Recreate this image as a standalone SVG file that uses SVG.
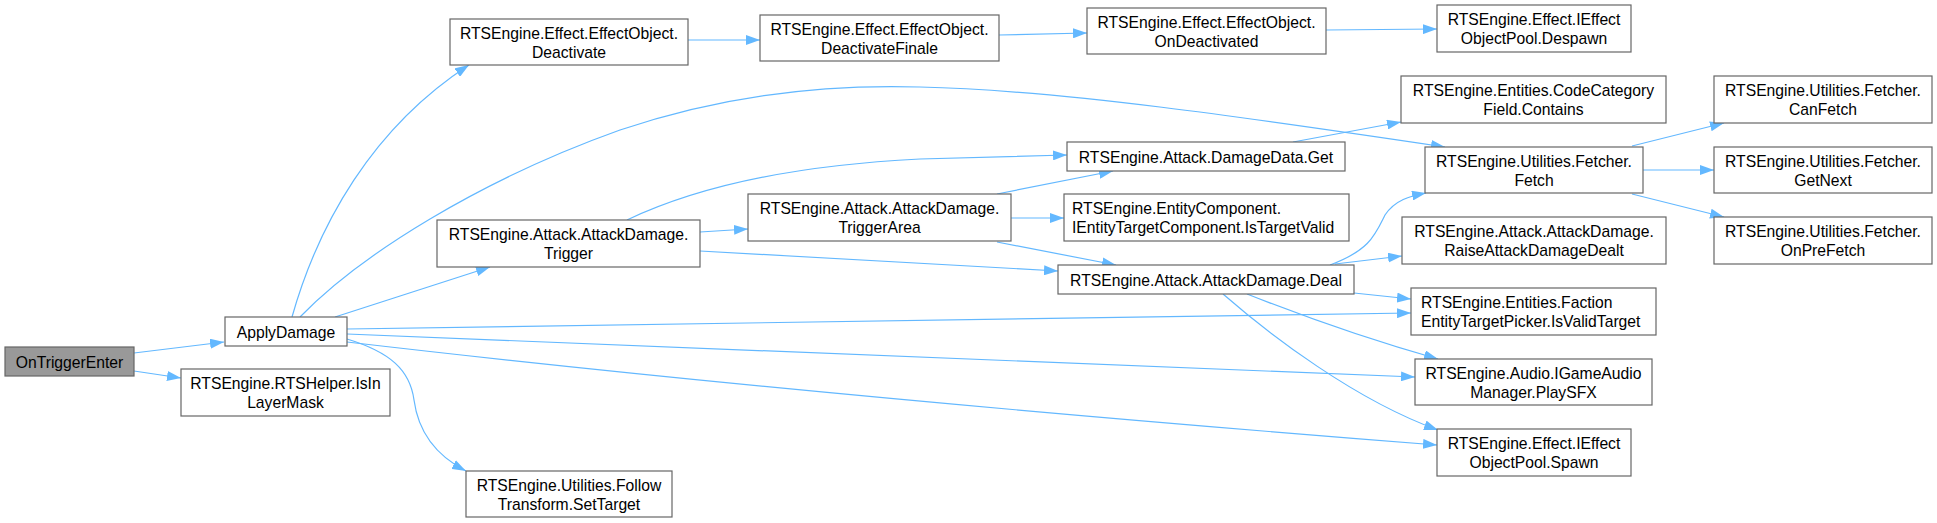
<svg xmlns="http://www.w3.org/2000/svg" width="1937" height="523" viewBox="0 0 1937 523">
<style>
.node rect{fill:#ffffff;stroke:#666666;stroke-width:1.2}
.root rect{fill:#999999}
text{font-family:"Liberation Sans",Arial,Helvetica,sans-serif;font-size:15.7px;fill:#000000}
.c{text-anchor:middle}
.l{text-anchor:start}
.edges path{fill:none;stroke:#63b8ff;stroke-width:1.2;marker-end:url(#ah)}
</style>
<defs>
<marker id="ah" markerWidth="14" markerHeight="10" refX="14" refY="5" orient="auto" markerUnits="userSpaceOnUse"><path d="M0,0L14,5L0,10z" fill="#63b8ff"/></marker>
</defs>
<rect x="0" y="0" width="1937" height="523" fill="#ffffff"/>
<g class="edges" id="edges">
<path d="M134,353 L224,342"/>
<path d="M134,371 L181,378"/>
<path d="M292,317 C318,225 372,128 469,65"/>
<path d="M300,317 C360,255 480,180 620,130 C720,96 820,84 920,87 C1060,90 1250,118 1445,147"/>
<path d="M335,317 L490,267"/>
<path d="M347,329 L1411,313"/>
<path d="M347,334 L1415,377"/>
<path d="M347,342 Q800,395 1437,445"/>
<path d="M347,339 C390,352 410,370 414,400 C418,430 435,455 466,471"/>
<path d="M688,40 L760,40"/>
<path d="M999,35 L1087,33"/>
<path d="M1326,30 L1437,29"/>
<path d="M627,220 C690,190 780,166 920,159 C980,157 1030,156 1067,155"/>
<path d="M700,232 L748,229"/>
<path d="M700,251 L1058,271"/>
<path d="M997,194 L1113,171"/>
<path d="M1011,218 L1064,218"/>
<path d="M997,242 L1116,265"/>
<path d="M1293,142 L1401,122"/>
<path d="M1330,265 C1370,250 1375,235 1385,215 C1395,200 1410,196 1426,193"/>
<path d="M1335,264 L1402,256"/>
<path d="M1354,293 L1411,299"/>
<path d="M1247,294 C1300,315 1370,340 1438,359"/>
<path d="M1223,294 C1270,335 1355,400 1438,430"/>
<path d="M1632,146 L1724,123"/>
<path d="M1643,170 L1714,170"/>
<path d="M1632,194 L1724,217"/>
</g>
<g class="node root" id="OnTriggerEnter"><rect x="5" y="347" width="129" height="29"/><text class="c" x="69.5" y="368">OnTriggerEnter</text></g>
<g class="node" id="ApplyDamage"><rect x="225" y="317" width="122" height="29"/><text class="c" x="286" y="338">ApplyDamage</text></g>
<g class="node" id="IsInLayerMask"><rect x="181" y="369" width="209" height="47"/><text class="c" x="285.5" y="389">RTSEngine.RTSHelper.IsIn</text><text class="c" x="285.5" y="407.5">LayerMask</text></g>
<g class="node" id="SetTarget"><rect x="466" y="471" width="206" height="46"/><text class="c" x="569" y="491">RTSEngine.Utilities.Follow</text><text class="c" x="569" y="509.5">Transform.SetTarget</text></g>
<g class="node" id="Deactivate"><rect x="450" y="19" width="238" height="46"/><text class="c" x="569" y="39">RTSEngine.Effect.EffectObject.</text><text class="c" x="569" y="57.5">Deactivate</text></g>
<g class="node" id="DeactivateFinale"><rect x="760" y="15" width="239" height="46"/><text class="c" x="879.5" y="35">RTSEngine.Effect.EffectObject.</text><text class="c" x="879.5" y="53.5">DeactivateFinale</text></g>
<g class="node" id="OnDeactivated"><rect x="1087" y="8" width="239" height="46"/><text class="c" x="1206.5" y="28">RTSEngine.Effect.EffectObject.</text><text class="c" x="1206.5" y="46.5">OnDeactivated</text></g>
<g class="node" id="Despawn"><rect x="1437" y="5" width="194" height="47"/><text class="c" x="1534" y="25">RTSEngine.Effect.IEffect</text><text class="c" x="1534" y="43.5">ObjectPool.Despawn</text></g>
<g class="node" id="Trigger"><rect x="437" y="220" width="263" height="47"/><text class="c" x="568.5" y="240">RTSEngine.Attack.AttackDamage.</text><text class="c" x="568.5" y="258.5">Trigger</text></g>
<g class="node" id="TriggerArea"><rect x="748" y="194" width="263" height="47"/><text class="c" x="879.5" y="214">RTSEngine.Attack.AttackDamage.</text><text class="c" x="879.5" y="232.5">TriggerArea</text></g>
<g class="node" id="DamageDataGet"><rect x="1067" y="142" width="278" height="29"/><text class="c" x="1206" y="162.8">RTSEngine.Attack.DamageData.Get</text></g>
<g class="node" id="IsTargetValid"><rect x="1064" y="194" width="285" height="47"/><text class="l" x="1072" y="214">RTSEngine.EntityComponent.</text><text class="l" x="1072" y="232.5">IEntityTargetComponent.IsTargetValid</text></g>
<g class="node" id="Deal"><rect x="1058" y="265" width="296" height="29"/><text class="c" x="1206" y="285.8">RTSEngine.Attack.AttackDamage.Deal</text></g>
<g class="node" id="Contains"><rect x="1401" y="76" width="265" height="47"/><text class="c" x="1533.5" y="96">RTSEngine.Entities.CodeCategory</text><text class="c" x="1533.5" y="114.5">Field.Contains</text></g>
<g class="node" id="Fetch"><rect x="1425" y="147" width="218" height="46"/><text class="c" x="1534" y="167">RTSEngine.Utilities.Fetcher.</text><text class="c" x="1534" y="185.5">Fetch</text></g>
<g class="node" id="RaiseAttackDamageDealt"><rect x="1402" y="217" width="264" height="47"/><text class="c" x="1534" y="237">RTSEngine.Attack.AttackDamage.</text><text class="c" x="1534" y="255.5">RaiseAttackDamageDealt</text></g>
<g class="node" id="IsValidTarget"><rect x="1411" y="288" width="245" height="47"/><text class="l" x="1421" y="308">RTSEngine.Entities.Faction</text><text class="l" x="1421" y="326.5">EntityTargetPicker.IsValidTarget</text></g>
<g class="node" id="PlaySFX"><rect x="1415" y="359" width="237" height="46"/><text class="c" x="1533.5" y="379">RTSEngine.Audio.IGameAudio</text><text class="c" x="1533.5" y="397.5">Manager.PlaySFX</text></g>
<g class="node" id="Spawn"><rect x="1437" y="429" width="194" height="47"/><text class="c" x="1534" y="449">RTSEngine.Effect.IEffect</text><text class="c" x="1534" y="467.5">ObjectPool.Spawn</text></g>
<g class="node" id="CanFetch"><rect x="1714" y="76" width="218" height="47"/><text class="c" x="1823" y="96">RTSEngine.Utilities.Fetcher.</text><text class="c" x="1823" y="114.5">CanFetch</text></g>
<g class="node" id="GetNext"><rect x="1714" y="147" width="218" height="46"/><text class="c" x="1823" y="167">RTSEngine.Utilities.Fetcher.</text><text class="c" x="1823" y="185.5">GetNext</text></g>
<g class="node" id="OnPreFetch"><rect x="1714" y="217" width="218" height="47"/><text class="c" x="1823" y="237">RTSEngine.Utilities.Fetcher.</text><text class="c" x="1823" y="255.5">OnPreFetch</text></g>
</svg>
